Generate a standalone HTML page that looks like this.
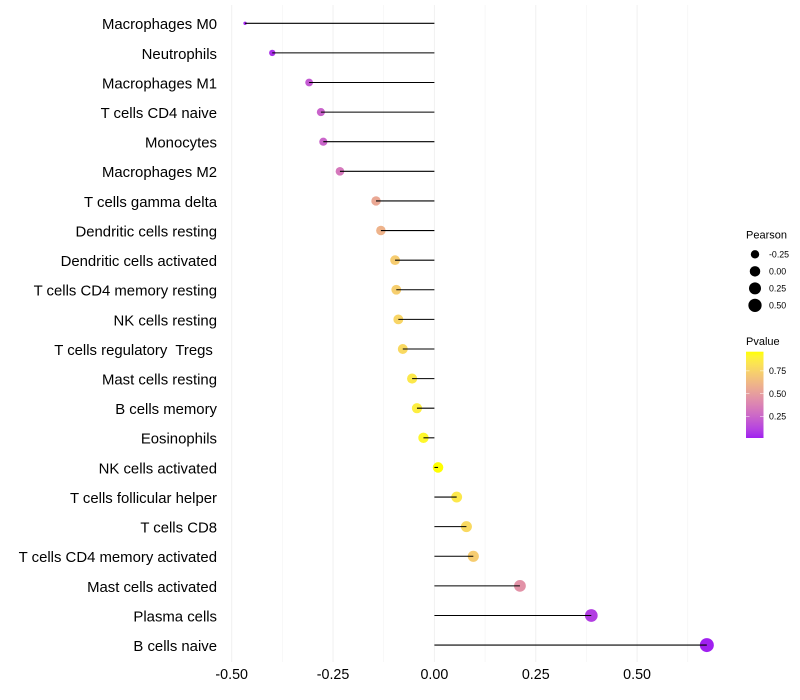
<!DOCTYPE html>
<html>
<head>
<meta charset="utf-8">
<title>Immune cell correlation lollipop chart</title>
<style>
html,body{margin:0;padding:0;background:#fff;}
svg{display:block;font-family:"Liberation Sans",sans-serif;}
text{white-space:pre;}
</style>
</head>
<body>
<svg id="chart" xmlns="http://www.w3.org/2000/svg" width="800" height="700" viewBox="0 0 800 700"></svg>
<script>
const categories = ["Macrophages M0","Neutrophils","Macrophages M1","T cells CD4 naive","Monocytes","Macrophages M2","T cells gamma delta","Dendritic cells resting","Dendritic cells activated","T cells CD4 memory resting","NK cells resting","T cells regulatory  Tregs ","Mast cells resting","B cells memory","Eosinophils","NK cells activated","T cells follicular helper","T cells CD8","T cells CD4 memory activated","Mast cells activated","Plasma cells","B cells naive"];
const pearson = [-0.467,-0.400,-0.309,-0.280,-0.274,-0.233,-0.144,-0.132,-0.097,-0.094,-0.089,-0.078,-0.055,-0.043,-0.027,0.009,0.055,0.079,0.096,0.211,0.387,0.672];
const pvalue = [0.03,0.06,0.20,0.24,0.25,0.33,0.55,0.60,0.72,0.73,0.76,0.78,0.85,0.88,0.92,0.96,0.85,0.78,0.72,0.45,0.10,0.016];
const xMajorTicks = [-0.5,-0.25,0,0.25,0.5];
const xMinorTicks = [-0.375,-0.125,0.125,0.375,0.625];
const xTickLabels = ["-0.50","-0.25","0.00","0.25","0.50"];
const sizeLegendValues = [-0.25,0,0.25,0.5];
const sizeLegendLabels = ["-0.25","0.00","0.25","0.50"];
const colorLegendValues = [0.25,0.5,0.75];
const colorLegendLabels = ["0.25","0.50","0.75"];

const svg = document.getElementById('chart');
const NS = 'http://www.w3.org/2000/svg';
function make(tag, attrs, text) {
  const el = document.createElementNS(NS, tag);
  for (const k in attrs) el.setAttribute(k, attrs[k]);
  if (text !== undefined) el.textContent = text;
  svg.appendChild(el);
  return el;
}
const xScale = v => 434.4 + v * 405.4;
const yScale = i => 23.28 + i * 29.61;
const sMin = Math.min(...pearson), sMax = Math.max(...pearson);
const rScale = v => 1.7 + 5.3 * Math.pow(Math.max(0, (v - sMin) / (sMax - sMin)), 0.45);
const pMin = Math.min(...pvalue), pMax = Math.max(...pvalue);
const legendTop = 351.7, legendBottom = 438;
const legendY = p => legendBottom - (p - pMin) / (pMax - pMin) * (legendBottom - legendTop);

function toLab(c) {
  const f = u => { u /= 255; return u > 0.04045 ? Math.pow((u + 0.055) / 1.055, 2.4) : u / 12.92; };
  const r = f(c[0]), g = f(c[1]), b = f(c[2]);
  const x = (0.4124 * r + 0.3576 * g + 0.1805 * b) / 0.95047;
  const y = 0.2126 * r + 0.7152 * g + 0.0722 * b;
  const z = (0.0193 * r + 0.1192 * g + 0.9505 * b) / 1.08883;
  const h = t => t > 0.008856 ? Math.cbrt(t) : 7.787 * t + 16 / 116;
  return [116 * h(y) - 16, 500 * (h(x) - h(y)), 200 * (h(y) - h(z))];
}
function fromLab(l) {
  const fy = (l[0] + 16) / 116, fx = fy + l[1] / 500, fz = fy - l[2] / 200;
  const h = t => t * t * t > 0.008856 ? t * t * t : (t - 16 / 116) / 7.787;
  const x = h(fx) * 0.95047, y = h(fy), z = h(fz) * 1.08883;
  const lin = [3.2406 * x - 1.5372 * y - 0.4986 * z, -0.9689 * x + 1.8758 * y + 0.0415 * z, 0.0557 * x - 0.204 * y + 1.057 * z];
  const g = u => { u = Math.min(1, Math.max(0, u)); return u > 0.0031308 ? 1.055 * Math.pow(u, 1 / 2.4) - 0.055 : 12.92 * u; };
  return 'rgb(' + lin.map(u => Math.round(g(u) * 255)).join(',') + ')';
}
const labLow = toLab([160, 32, 240]), labHigh = toLab([255, 255, 0]);
function colorAt(t) {
  return fromLab(labLow.map((v, i) => v + (labHigh[i] - v) * t));
}
const colorScale = p => colorAt((p - pMin) / (pMax - pMin));

/* grid */
xMinorTicks.forEach(v => {
  const el = make('line', {x1: xScale(v), x2: xScale(v), y1: 5, y2: 662, stroke: '#f2f2f2', 'stroke-width': 0.55});
  
  
});
xMajorTicks.forEach(v => {
  const el = make('line', {x1: xScale(v), x2: xScale(v), y1: 5, y2: 662, stroke: '#f0f0f0', 'stroke-width': 1});
  
  
});

/* points, then stems on top */
categories.forEach((c, i) => {
  const el = make('circle', {cx: xScale(pearson[i]), cy: yScale(i), r: rScale(pearson[i]), fill: colorScale(pvalue[i])});
  
  
});
categories.forEach((c, i) => {
  const el = make('line', {x1: xScale(0), x2: xScale(pearson[i]), y1: yScale(i), y2: yScale(i), stroke: '#000', 'stroke-width': 1.07});
  
  
});

/* axis labels */
categories.forEach((c, i) => {
  const el = make('text', {x: 217, y: yScale(i) + 5.9, 'text-anchor': 'end', 'font-size': 14.9, fill: '#000'}, c);
  
  
});
xMajorTicks.forEach((v, i) => {
  const el = make('text', {x: xScale(v), y: 679, 'text-anchor': 'middle', 'font-size': 14.3, fill: '#000'}, xTickLabels[i]);
  
  
});

/* size legend */
const pearsonTitle = make('text', {x: 746, y: 238.5, 'font-size': 11, fill: '#000'}, 'Pearson');


sizeLegendValues.forEach((v, i) => {
  const cy = 254.3 + i * 17.02;
  const dot = make('circle', {cx: 755, cy: cy, r: rScale(v), fill: '#000'});
  
  
  const lab = make('text', {x: 769, y: cy + 3.1, 'font-size': 8.8, fill: '#000'}, sizeLegendLabels[i]);
  
  
});

/* colour legend */
const pvalueTitle = make('text', {x: 746, y: 345, 'font-size': 11, fill: '#000'}, 'Pvalue');


const defs = make('defs', {});


const grad = document.createElementNS(NS, 'linearGradient');
grad.setAttribute('id', 'pvalue-gradient');
grad.setAttribute('x1', '0');
grad.setAttribute('x2', '0');
grad.setAttribute('y1', '1');
grad.setAttribute('y2', '0');
for (let s = 0; s <= 20; s++) {
  const st = document.createElementNS(NS, 'stop');
  st.setAttribute('offset', s / 20);
  st.setAttribute('stop-color', colorAt(s / 20));
  grad.appendChild(st);
}
defs.appendChild(grad);
const bar = make('rect', {x: 746, y: legendTop, width: 17.5, height: legendBottom - legendTop, fill: 'url(#pvalue-gradient)'});


colorLegendValues.forEach((v, i) => {
  const y = legendY(v);
  const t1 = make('line', {x1: 746, x2: 749.5, y1: y, y2: y, stroke: '#fff', 'stroke-width': 0.5});
  
  
  const t2 = make('line', {x1: 760, x2: 763.5, y1: y, y2: y, stroke: '#fff', 'stroke-width': 0.5});
  
  
  const lab = make('text', {x: 769, y: y + 3.1, 'font-size': 8.8, fill: '#000'}, colorLegendLabels[i]);
  
  
});
</script>
</body>
</html>
